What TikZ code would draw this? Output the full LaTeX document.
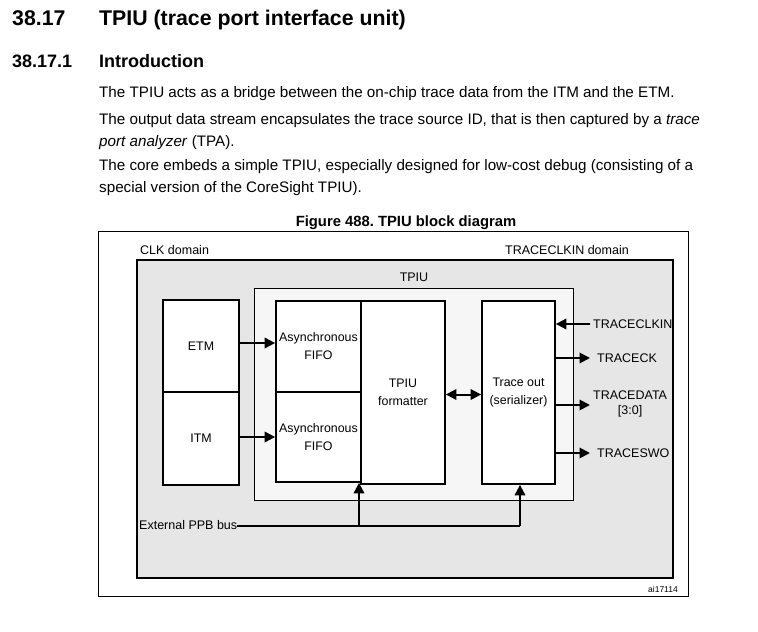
\documentclass[tikz,border=0pt]{standalone}
\usepackage{fontspec}
\setmainfont{Liberation Sans}
\usetikzlibrary{arrows.meta}
\definecolor{domgray}{HTML}{E6E6E6}
\definecolor{tpiugray}{HTML}{F6F6F6}
\frenchspacing
\begin{document}
\begin{tikzpicture}[x=1pt,y=-1pt,
  box/.style={draw=black,line width=1.8pt,fill=white,inner sep=0pt,align=center,
     font=\fontsize{12.4}{18}\selectfont},
  lbl/.style={inner sep=0pt,font=\fontsize{12.5}{16}\selectfont},
  arr/.style={line width=2pt,-{Triangle[length=10.5pt,width=10.5pt]}},
  darr/.style={line width=2pt,{Triangle[length=10.5pt,width=10.5pt]}-{Triangle[length=10.5pt,width=10.5pt]}},
  txt/.style={anchor=base west,inner sep=0pt,font=\fontsize{15.2}{18}\selectfont},
]
\useasboundingbox (0,0) rectangle (758,632);
% headings
\node[anchor=base west,inner sep=0pt,font=\fontsize{21.3}{24}\selectfont\bfseries] (h1n) at (12,25) {38.17};
\node[anchor=base west,inner sep=0pt,font=\fontsize{21.3}{24}\selectfont\bfseries] (h1) at (99,25) {TPIU (trace port interface unit)};
\node[anchor=base west,inner sep=0pt,font=\fontsize{18}{22}\selectfont\bfseries] (h2n) at (12,67) {38.17.1};
\node[anchor=base west,inner sep=0pt,font=\fontsize{18}{22}\selectfont\bfseries] (h2) at (99,67) {Introduction};
\node[txt] (p1) at (99,97) {The TPIU acts as a bridge between the on-chip trace data from the ITM and the ETM.};
\node[txt] (p2) at (99,124) {The output data stream encapsulates the trace source ID, that is then captured by a \textit{trace}};
\node[txt] (p3) at (99,146) {\textit{port analyzer} (TPA).};
\node[txt] (p4) at (99,170) {The core embeds a simple TPIU, especially designed for low-cost debug (consisting of a};
\node[txt] (p5) at (99,192) {special version of the CoreSight TPIU).};
\node[anchor=base,inner sep=0pt,font=\fontsize{14.8}{17}\selectfont\bfseries] (cap) at (406,226) {Figure 488. TPIU block diagram};
% frames
\draw[line width=0.8pt] (98.5,231.5) rectangle (688,596);
\draw[line width=1.8pt,fill=domgray] (137,260) rectangle (673,578);
\draw[line width=0.8pt,fill=tpiugray] (254,288) rectangle (573,500);
\node[lbl,anchor=west] (clkdom) at (140,250) {CLK domain};
\node[lbl,anchor=east] (trdom) at (629,250) {TRACECLKIN domain};
\node[lbl] (tpiul) at (414,277) {TPIU};
\node[inner sep=0pt,anchor=east,font=\fontsize{8.5}{10}\selectfont] (ai) at (678,589) {ai17114};
% blocks
\node[box,minimum width=76pt,minimum height=92pt] (etm) at (201,346) {ETM};
\node[box,minimum width=76pt,minimum height=93pt] (itm) at (201,438.5) {ITM};
\node[box,minimum width=85pt,minimum height=91pt] (fifo1) at (318.5,346.5) {Asynchronous\\FIFO};
\node[box,minimum width=85pt,minimum height=90pt] (fifo2) at (318.5,437) {Asynchronous\\FIFO};
\node[box,minimum width=84pt,minimum height=183pt] (fmt) at (403,392.5) {TPIU\\formatter};
\node[box,minimum width=73pt,minimum height=183pt] (tro) at (518.5,392.5) {Trace out\\(serializer)};
% connectors
\draw[arr] ([yshift=3pt]etm.east) -- ([yshift=3pt]fifo1.west |- etm.east);
\draw[arr] ([yshift=1.5pt]itm.east) -- ([yshift=1.5pt]fifo2.west |- itm.east);
\draw[darr] ([yshift=-2pt]fmt.east) -- ([yshift=-2pt]tro.west);
% signals
\node[lbl,anchor=west] (clkin) at (593,324) {TRACECLKIN};
\node[lbl,anchor=west] (tck) at (597,358) {TRACECK};
\node[lbl,anchor=west,align=center,font=\fontsize{12.5}{15}\selectfont] (tdata) at (593,404) {TRACEDATA\\{[3:0]}};
\node[lbl,anchor=west] (tswo) at (597,453) {TRACESWO};
\draw[arr,shorten <=3pt] (clkin.west) -- (tro.east |- clkin.west);
\draw[arr,shorten >=7pt] (tro.east |- tck.west) -- (tck.west);
\coordinate (tdin) at (590,405);
\draw[arr] (tro.east |- tdin) -- (tdin);
\draw[arr,shorten >=7pt] (tro.east |- tswo.west) -- (tswo.west);
% bus
\node[lbl,anchor=west] (ppb) at (139,525) {External PPB bus};
\coordinate (busend) at (520,526);
\coordinate (busj) at (359,526);
\draw[line width=2pt] (ppb.east |- busend) -- (busend);
\draw[arr] (busj) -- (busj |- fifo2.south);
\draw[arr] (busend) -- (busend |- tro.south);
\end{tikzpicture}
\end{document}
